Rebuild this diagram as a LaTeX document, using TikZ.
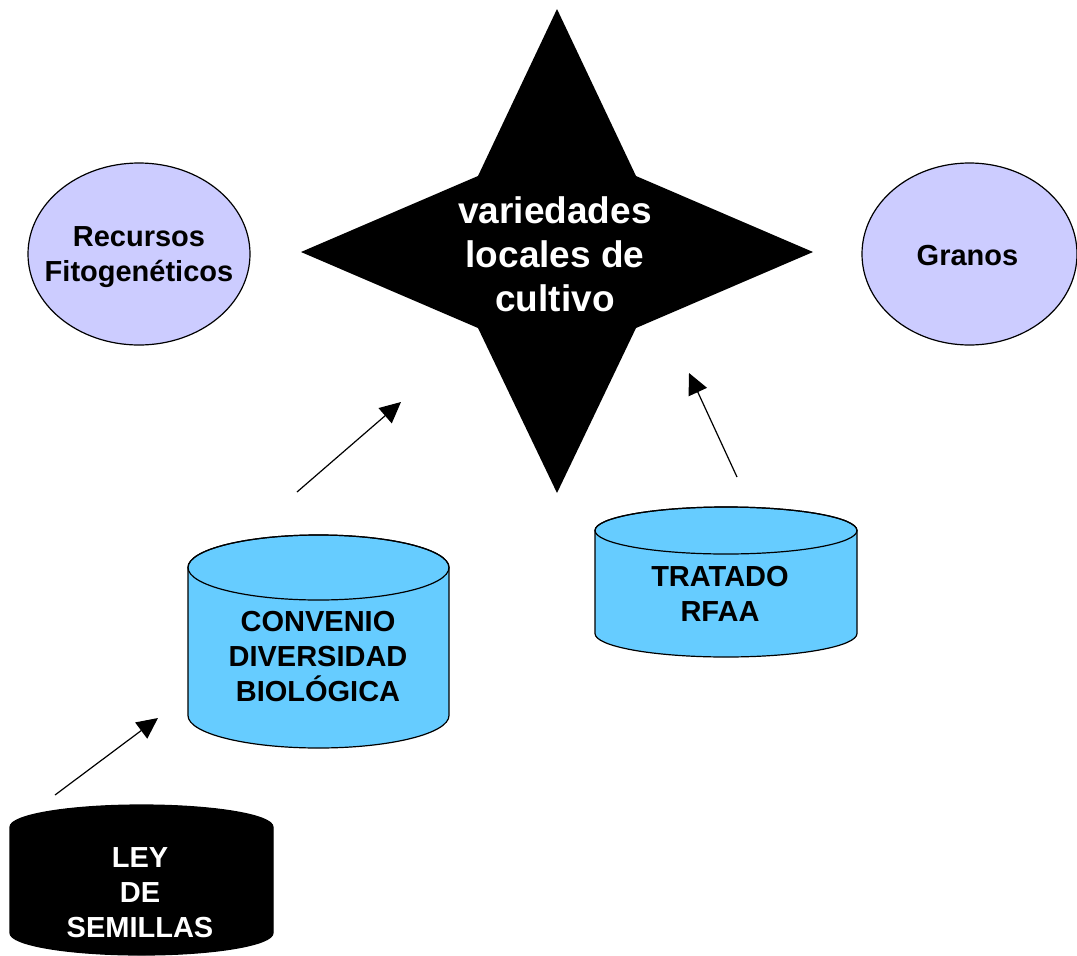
\documentclass[tikz,border=0pt]{standalone}
\usepackage{fontspec}
\setmainfont{Liberation Sans}
\usetikzlibrary{arrows.meta}
\definecolor{lav}{HTML}{CCCCFF}
\definecolor{cyl}{HTML}{66CCFF}
\begin{document}
\begin{tikzpicture}[x=1pt,y=-1pt,
  outl/.style={draw=black,line width=1.2pt},
  lbl/.style={align=center,font=\fontsize{29}{35}\selectfont\bfseries,inner sep=0pt},
  bigl/.style={align=center,font=\fontsize{37}{44}\selectfont\bfseries,inner sep=0pt,text=white},
  arr/.style={line width=1.2pt,-{Triangle[length=21pt,width=20pt]}}]
\fill[white] (0,0) rectangle (1077,956);
\useasboundingbox (0,0) rectangle (1077,956);
% ellipses
\draw[outl,fill=lav] (139,254) ellipse (111 and 91);
\node[lbl] (rec) at (139,257) {Recursos\\Fitogenéticos};
\draw[outl,fill=lav] (969.5,254) ellipse (107.5 and 91);
\node[lbl] (gra) at (967.5,256) {Granos};
% star
\fill[black] (557,9) -- (636,176) -- (813,252) -- (636,328) -- (557,493) -- (478,328) -- (301,252) -- (478,176) -- cycle;
\node[bigl] (var) at (555,254) {variedades\\locales de\\cultivo};
% CONVENIO cylinder
\draw[outl,fill=cyl] (188,567.5) -- (188,715.5) arc (180:0:130.5 and 32.5) -- (449,567.5) arc (0:-180:130.5 and 32.5) -- cycle;
\draw[outl] (318.5,567.5) ellipse (130.5 and 32.5);
\node[lbl] (cdb) at (318,657) {CONVENIO\\DIVERSIDAD\\BIOLÓGICA};
% TRATADO cylinder
\draw[outl,fill=cyl] (595,530.5) -- (595,633.5) arc (180:0:131 and 23.5) -- (857,530.5) arc (0:-180:131 and 23.5) -- cycle;
\draw[outl] (726,530.5) ellipse (131 and 23.5);
\node[lbl] (tra) at (720,593.5) {TRATADO\\RFAA};
% LEY cylinder
\draw[outl,fill=black] (10,827) -- (10,933) arc (180:0:131.5 and 22) -- (273,827) arc (0:-180:131.5 and 22) -- cycle;
\node[lbl,text=white] (ley) at (140,893) {LEY\\DE\\SEMILLAS};
% arrows
\coordinate (a1s) at (297,492);
\coordinate (a1e) at (401,402);
\coordinate (a2s) at (737,477);
\coordinate (a2e) at (689,373);
\coordinate (a3s) at (55,795);
\coordinate (a3e) at (158,718);
\draw[arr] (a1s) -- (a1e);
\draw[arr] (a2s) -- (a2e);
\draw[arr] (a3s) -- (a3e);
\end{tikzpicture}
\end{document}
